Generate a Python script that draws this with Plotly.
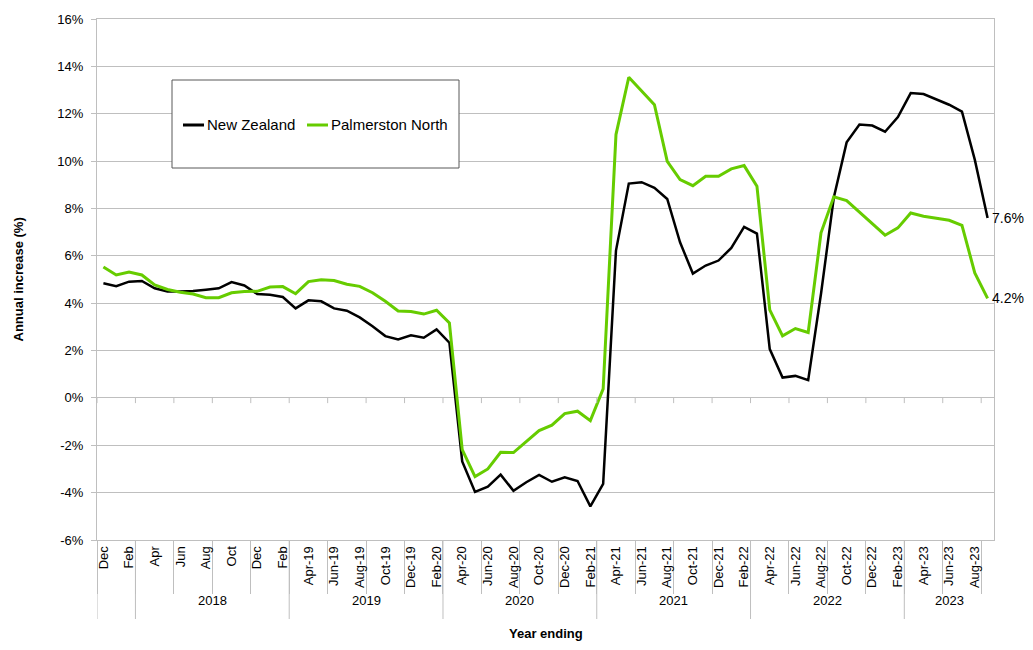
"""Annual increase: New Zealand vs Palmerston North."""

import plotly.graph_objects as go

# monthly values, Dec 2017 .. Sep 2023 (year ending)
nz = [
    4.84, 4.72, 4.91, 4.94, 4.63, 4.49, 4.49, 4.51, 4.57, 4.63, 4.89, 4.75,
    4.39, 4.36, 4.26, 3.78, 4.12, 4.08, 3.78, 3.68, 3.40, 3.03, 2.61, 2.47,
    2.64, 2.54, 2.89, 2.33, -2.68, -3.97, -3.75, -3.24, -3.92, -3.56, -3.25, -3.54,
    -3.35, -3.51, -4.58, -3.63, 6.22, 9.05, 9.11, 8.87, 8.40, 6.57, 5.25, 5.59,
    5.80, 6.33, 7.22, 6.94, 2.06, 0.86, 0.93, 0.75, 4.40, 8.46, 10.79, 11.54,
    11.50, 11.24, 11.86, 12.87, 12.83, 12.62, 12.38, 12.09, 10.06, 7.6,
]
palmerston_north = [
    5.53, 5.19, 5.32, 5.19, 4.77, 4.58, 4.46, 4.39, 4.23, 4.23, 4.44, 4.49,
    4.50, 4.68, 4.70, 4.40, 4.91, 4.99, 4.96, 4.80, 4.71, 4.44, 4.08, 3.67,
    3.65, 3.54, 3.70, 3.17, -2.18, -3.32, -3.00, -2.30, -2.31, -1.85, -1.38, -1.15,
    -0.66, -0.56, -0.96, 0.38, 11.12, 13.54, 12.95, 12.38, 9.99, 9.22, 8.96, 9.36,
    9.36, 9.67, 9.81, 8.94, 3.72, 2.62, 2.93, 2.76, 6.97, 8.49, 8.33, 7.84,
    7.32, 6.87, 7.18, 7.81, 7.67, 7.57, 7.50, 7.29, 5.28, 4.2,
]

# every second month is labelled
tick_labels = [
    "Dec", "Feb", "Apr", "Jun", "Aug", "Oct", "Dec", "Feb",
    "Apr-19", "Jun-19", "Aug-19", "Oct-19", "Dec-19", "Feb-20",
    "Apr-20", "Jun-20", "Aug-20", "Oct-20", "Dec-20", "Feb-21",
    "Apr-21", "Jun-21", "Aug-21", "Oct-21", "Dec-21", "Feb-22",
    "Apr-22", "Jun-22", "Aug-22", "Oct-22", "Dec-22", "Feb-23",
    "Apr-23", "Jun-23", "Aug-23",
]
year_groups = ["", "2018", "2019", "2020", "2021", "2022", "2023"]
group_sizes = [3, 12, 12, 12, 12, 12, 7]
y_ticks = [-6, -4, -2, 0, 2, 4, 6, 8, 10, 12, 14, 16]

GREEN = "#66CC00"
GRID = "#BFBFBF"
FONT = "Arial, Liberation Sans, sans-serif"

n = len(nz)
x = list(range(n))

fig = go.Figure()
fig.add_trace(go.Scatter(x=x, y=nz, mode="lines", name="New Zealand",
                         line={"color": "#000000", "width": 2.5}))
fig.add_trace(go.Scatter(x=x, y=palmerston_north, mode="lines", name="Palmerston North",
                         line={"color": GREEN, "width": 3}))

# end-of-series value labels
for series in (nz, palmerston_north):
    fig.add_annotation(x=n - 1, y=series[-1], text=f"{series[-1]:.1f}%", showarrow=False,
                       xanchor="left", xshift=2, font={"size": 14})


# window pixel -> paper coords (plot area spans x 97..994, y 19..540)
def px_x(px):
    return (px - 97) / 897


def px_y(py):
    return (540 - py) / 521


shapes = []
start = -0.5
for label, size in zip(year_groups, group_sizes):
    shapes.append(dict(type="line", xref="x", yref="paper", x0=start, x1=start,
                       y0=0, y1=px_y(619), line={"color": GRID, "width": 1}))
    if label:
        fig.add_annotation(x=start + size / 2, y=px_y(610), xref="x", yref="paper",
                           text=label, showarrow=False, font={"size": 13})
    start += size

# small ticks on the zero line
for k in range(0, n, 3):
    shapes.append(dict(type="line", xref="x", yref="y", x0=k - 0.5, x1=k - 0.5,
                       y0=0, y1=-0.22, line={"color": GRID, "width": 1}))

# legend frame and keys
shapes.append(dict(type="rect", xref="paper", yref="paper",
                   x0=px_x(172), x1=px_x(459), y0=px_y(168), y1=px_y(80),
                   fillcolor="white", line={"color": "#595959", "width": 1}, layer="above"))
legend_items = [("New Zealand", "#000000", 183, 204), ("Palmerston North", GREEN, 307, 328)]
for name, colour, x0, x1 in legend_items:
    shapes.append(dict(type="line", xref="paper", yref="paper", x0=px_x(x0), x1=px_x(x1),
                       y0=px_y(125), y1=px_y(125), line={"color": colour, "width": 3},
                       layer="above"))
    fig.add_annotation(x=px_x(x1 + 1), y=px_y(125), xref="paper", yref="paper", text=name,
                       xanchor="left", yanchor="middle", showarrow=False, font={"size": 15})

fig.add_annotation(x=0.5, y=px_y(643), xref="paper", yref="paper", text="<b>Year ending</b>",
                   showarrow=False, font={"size": 13})
fig.add_annotation(x=px_x(18), y=0.5, xref="paper", yref="paper", xanchor="center",
                   text="<b>Annual increase (%)</b>", textangle=-90, showarrow=False,
                   font={"size": 13})

# page body adds an 8px offset, so margins are shifted by 8
fig.update_layout(
    width=1025,
    height=642,
    margin={"l": 89, "r": 39, "t": 11, "b": 110, "autoexpand": False},
    paper_bgcolor="white",
    plot_bgcolor="white",
    font={"family": FONT, "size": 13, "color": "#000000"},
    shapes=shapes,
    showlegend=False,
)
fig.update_xaxes(
    range=[-0.5, n - 0.5],
    tickmode="array",
    tickvals=list(range(0, n, 2)),
    ticktext=tick_labels,
    tickangle=-90,
    ticks="",
    automargin=False,
    showgrid=False,
    zeroline=False,
    showline=True,
    mirror=True,
    linecolor=GRID,
    minor={"tickmode": "linear", "tick0": -0.5, "dtick": 3, "ticks": "outside",
           "ticklen": 53, "tickcolor": GRID, "showgrid": False},
)
fig.update_yaxes(
    range=[-6, 16],
    tickmode="array",
    tickvals=y_ticks,
    ticktext=[f"{v}%" for v in y_ticks],
    ticks="outside",
    ticklen=5,
    tickcolor=GRID,
    ticklabelstandoff=5,
    automargin=False,
    showgrid=True,
    gridcolor=GRID,
    zeroline=True,
    zerolinecolor=GRID,
    zerolinewidth=1,
    showline=True,
    mirror=True,
    linecolor=GRID,
)

fig.write_html("out.html")
